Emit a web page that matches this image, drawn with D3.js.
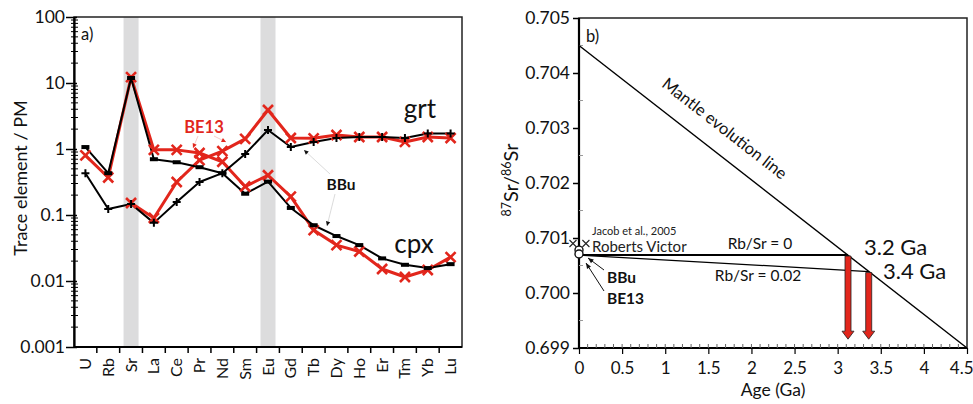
<!DOCTYPE html>
<html>
<head>
<meta charset="utf-8">
<script src="https://cdn.jsdelivr.net/npm/d3@7"></script>
<style>
  body { margin: 0; background: #fff; }
  svg { display: block; font-family: Lato, "Open Sans", sans-serif; }
</style>
</head>
<body>
<svg id="chart" width="973" height="404"></svg>
<script>
// ---------- panel a) data : trace elements normalised to primitive mantle ----------
const elements = ["U","Rb","Sr","La","Ce","Pr","Nd","Sm","Eu","Gd","Tb","Dy","Ho","Er","Tm","Yb","Lu"];
const shadedElements = ["Sr","Eu"];
const cpxBBu  = [1.07,0.43,11.9,0.70,0.63,0.53,0.43,0.21,0.32,0.128,0.070,0.048,0.035,0.022,0.0176,0.0157,0.018];
const cpxBE13 = [0.80,0.37,12.3,0.97,0.97,0.87,0.64,0.27,0.40,0.19,0.059,0.035,0.028,0.0152,0.0115,0.0147,0.023];
const grtBBu  = [0.43,0.123,0.147,0.076,0.157,0.316,0.43,0.84,1.94,1.07,1.28,1.47,1.52,1.52,1.47,1.72,1.72];
const grtBE13 = [null,null,0.152,0.090,0.316,0.68,0.93,1.42,3.9,1.47,1.45,1.63,1.52,1.52,1.28,1.52,1.47];
const yTicksA = [0.001,0.01,0.1,1,10,100];
const yTickLabelsA = ["0.001","0.01","0.1","1","10","100"];

// ---------- panel b) data : Sr isotope evolution ----------
const mantleLine = [[0,0.7045],[4.5,0.699]];
const rbSr0Line = [[0,0.70069],[3.12,0.70069]];
const rbSr002Line = [[0,0.70069],[3.36,0.70039]];
const modelAges = [[3.12,0.70069],[3.36,0.70039]];
const sampleRatios = [{name:"BBu", age:0, sr:0.70078},{name:"BE13", age:0, sr:0.70071}];
const literaturePoints = [[-0.07,0.7009],[0.08,0.7009]];
const xTicksB = [0,0.5,1,1.5,2,2.5,3,3.5,4,4.5];
const yTicksB = [0.699,0.700,0.701,0.702,0.703,0.704,0.705];

const RED = "#e2261c";
const svg = d3.select("#chart");

// ================= panel a =================
const ax = {l:74, r:462, t:17, b:347};
const xA = d3.scaleBand().domain(elements).range([ax.l, ax.r]);
const yA = d3.scaleLog().domain([0.001,100]).range([ax.b, ax.t]);
const gA = svg.append("g");

// grey bands behind Sr and Eu
gA.selectAll("rect.band").data(shadedElements).join("rect")
  .attr("x", d => xA(d) + xA.bandwidth()/2 - 7.5)
  .attr("y", ax.t).attr("width", 15).attr("height", ax.b - ax.t)
  .attr("fill", "#dcdcdd");

// frame
gA.append("rect").attr("x", ax.l).attr("y", ax.t).attr("width", ax.r-ax.l).attr("height", ax.b-ax.t)
  .attr("fill","none").attr("stroke","#222").attr("stroke-width",1.5);

// y axis: major ticks with labels, log minor ticks
const yAxisA = d3.axisLeft(yA).tickValues(yTicksA).tickFormat((d,i)=>yTickLabelsA[i]).tickSize(6).tickSizeOuter(0);
const gyA = gA.append("g").attr("transform",`translate(${ax.l},0)`).call(yAxisA);
gyA.select(".domain").attr("stroke","#000").attr("stroke-width",2.2);
gyA.selectAll(".tick line").attr("stroke","#000").attr("stroke-width",1.5).attr("x2",-8).attr("x1",3);
gyA.selectAll(".tick text").attr("font-size",17.5).attr("fill","#111").attr("x",-9).attr("font-family","Lato, sans-serif");
const minorA = [];
for (let e = -3; e < 2; e++) for (let m = 2; m <= 9; m++) minorA.push(m * Math.pow(10, e));
gA.selectAll("line.minorA").data(minorA).join("line")
  .attr("x1", ax.l - 3).attr("x2", ax.l + 4)
  .attr("y1", d => yA(d)).attr("y2", d => yA(d))
  .attr("stroke","#000").attr("stroke-width",1);

// x axis: ticks on category boundaries, rotated labels
gA.append("line").attr("x1",ax.l).attr("x2",ax.r).attr("y1",ax.b).attr("y2",ax.b).attr("stroke","#000").attr("stroke-width",2.2);
gA.selectAll("line.xb").data(elements.slice(1)).join("line")
  .attr("x1", d => xA(d)).attr("x2", d => xA(d)).attr("y1", ax.b).attr("y2", ax.b+6)
  .attr("stroke","#000").attr("stroke-width",1.5);
gA.selectAll("text.xl").data(elements).join("text")
  .attr("transform", d => `translate(${xA(d)+xA.bandwidth()/2+5.5},${ax.b+11}) rotate(-90)`)
  .attr("text-anchor","end").attr("font-size",16).attr("fill","#111").text(d => d);

// y axis title
gA.append("text").attr("transform","translate(27,178) rotate(-90)").attr("text-anchor","middle")
  .attr("font-size",18).attr("fill","#111").text("Trace element / PM");
gA.append("text").attr("x",81).attr("y",40).attr("font-size",16.5).attr("fill","#111").text("a)");

// series
const cx = (d,i) => xA(elements[i]) + xA.bandwidth()/2;
function series(values, color, width) {
  const line = d3.line().defined(d => d != null).x(cx).y(d => yA(d));
  gA.append("path").datum(values).attr("d", line).attr("fill","none")
    .attr("stroke", color).attr("stroke-width", width).attr("stroke-linejoin","round");
}
function markers(values, type, color) {
  const pts = values.map((v,i)=>({v,i})).filter(p => p.v != null);
  const g = gA.append("g");
  pts.forEach(p => {
    const x = cx(p.v,p.i), y = yA(p.v);
    if (type === "times") {
      g.append("path").attr("d",`M${x-5},${y-5}L${x+5},${y+5}M${x-5},${y+5}L${x+5},${y-5}`)
        .attr("stroke",color).attr("stroke-width",2.6).attr("fill","none");
    } else if (type === "plus") {
      g.append("path").attr("d",`M${x-4},${y}L${x+4},${y}M${x},${y-4}L${x},${y+4}`)
        .attr("stroke",color).attr("stroke-width",2).attr("fill","none");
    } else {
      g.append("rect").attr("x",x-4).attr("y",y-2).attr("width",8).attr("height",4).attr("fill",color);
    }
  });
}
series(cpxBE13, RED, 3);
series(grtBE13, RED, 3);
series(cpxBBu, "#000", 2);
series(grtBBu, "#000", 2);
markers(cpxBE13, "times", RED);
markers(grtBE13, "times", RED);
markers(cpxBBu, "dash", "#000");
markers(grtBBu, "plus", "#000");

// mineral labels
gA.append("text").attr("x",420).attr("y",118).attr("text-anchor","middle").attr("font-size",26).attr("fill","#111").text("grt");
gA.append("text").attr("x",414).attr("y",253).attr("text-anchor","middle").attr("font-size",26).attr("fill","#111").text("cpx");

// sample labels with thin leaders
function leader(x1,y1,x2,y2,color,lineColor) {
  gA.append("line").attr("x1",x1).attr("y1",y1).attr("x2",x2).attr("y2",y2)
    .attr("stroke",lineColor).attr("stroke-width",0.7);
  const a = Math.atan2(y2-y1,x2-x1), s = 5;
  const p = [[x2,y2],[x2-s*Math.cos(a-0.45),y2-s*Math.sin(a-0.45)],[x2-s*Math.cos(a+0.45),y2-s*Math.sin(a+0.45)]];
  gA.append("path").attr("d","M"+p.join("L")+"Z").attr("fill",color);
}
gA.append("text").attr("x",204).attr("y",133).attr("text-anchor","middle").attr("font-size",16.5)
  .attr("font-weight","bold").attr("fill",RED).text("BE13");
leader(198,136,193,148,RED,"#f3b8b3");
leader(214,136,226,142,RED,"#f3b8b3");
gA.append("text").attr("x",341).attr("y",190).attr("text-anchor","middle").attr("font-size",15.5)
  .attr("font-weight","bold").attr("fill","#111").text("BBu");
leader(330,174,304,150,"#111","#ccc");
leader(335,194,327,226,"#111","#ccc");

// ================= panel b =================
const bx = {l:579, r:967, t:18, b:348};
const xB = d3.scaleLinear().domain([0,4.5]).range([bx.l, bx.r]);
const yB = d3.scaleLinear().domain([0.699,0.705]).range([bx.b, bx.t]);
const gB = svg.append("g");

gB.append("rect").attr("x",bx.l).attr("y",bx.t).attr("width",bx.r-bx.l).attr("height",bx.b-bx.t)
  .attr("fill","none").attr("stroke","#222").attr("stroke-width",1.5);
gB.append("line").attr("x1",bx.l).attr("x2",bx.l).attr("y1",bx.t).attr("y2",bx.b).attr("stroke","#000").attr("stroke-width",2.2);
gB.append("line").attr("x1",bx.l).attr("x2",bx.r).attr("y1",bx.b).attr("y2",bx.b).attr("stroke","#000").attr("stroke-width",2.2);

// y ticks
const yAxisB = d3.axisLeft(yB).tickValues(yTicksB).tickFormat(d3.format(".3f")).tickSize(6).tickSizeOuter(0);
const gyB = gB.append("g").attr("transform",`translate(${bx.l},0)`).call(yAxisB);
gyB.select(".domain").remove();
gyB.selectAll(".tick line").attr("stroke","#000").attr("stroke-width",1.5);
gyB.selectAll(".tick text").attr("font-size",17.5).attr("fill","#111").attr("x",-9).attr("font-family","Lato, sans-serif");
gB.selectAll("line.yminB").data(d3.range(0.6995,0.705,0.001)).join("line")
  .attr("x1",bx.l).attr("x2",bx.l+4).attr("y1",d=>yB(d)).attr("y2",d=>yB(d)).attr("stroke","#999").attr("stroke-width",1);

// x ticks
const xAxisB = d3.axisBottom(xB).tickValues(xTicksB).tickFormat(d3.format("")).tickSize(6).tickSizeOuter(0);
const gxB = gB.append("g").attr("transform",`translate(0,${bx.b})`).call(xAxisB);
gxB.select(".domain").remove();
gxB.selectAll(".tick line").attr("stroke","#000").attr("stroke-width",1.2);
gxB.selectAll(".tick text").attr("font-size",17).attr("fill","#111").attr("y",14).attr("font-family","Lato, sans-serif");
// keep the last label inside the page
gxB.selectAll(".tick text").filter(d => d === 4.5).attr("text-anchor","end").attr("x",6);
gB.selectAll("line.xminB").data(d3.range(0.1,4.5,0.1)).join("line")
  .attr("x1",d=>xB(d)).attr("x2",d=>xB(d)).attr("y1",bx.b).attr("y2",bx.b-4).attr("stroke","#666").attr("stroke-width",1);

// axis titles
gB.append("text").attr("x",773).attr("y",396).attr("text-anchor","middle").attr("font-size",17.5).attr("fill","#111").text("Age (Ga)");
const yt = gB.append("text").attr("transform","translate(518,180) rotate(-90)").attr("text-anchor","middle")
  .attr("font-size",20).attr("fill","#111");
yt.append("tspan").attr("font-size",12.5).attr("baseline-shift","super").text("87");
yt.append("tspan").text("Sr/");
yt.append("tspan").attr("font-size",12.5).attr("baseline-shift","super").text("86");
yt.append("tspan").text("Sr");
gB.append("text").attr("x",586).attr("y",42).attr("font-size",16.5).attr("fill","#111").text("b)");

// evolution lines
const lineB = d3.line().x(d=>xB(d[0])).y(d=>yB(d[1]));
gB.append("path").datum(mantleLine).attr("d",lineB).attr("stroke","#000").attr("stroke-width",1.4).attr("fill","none");
gB.append("path").datum(rbSr0Line).attr("d",lineB).attr("stroke","#000").attr("stroke-width",2).attr("fill","none");
gB.append("path").datum(rbSr002Line).attr("d",lineB).attr("stroke","#000").attr("stroke-width",1.2).attr("fill","none");

// mantle line label, parallel to the line
const ang = Math.atan2(yB(mantleLine[1][1])-yB(mantleLine[0][1]), xB(mantleLine[1][0])-xB(mantleLine[0][0])) * 180/Math.PI;
gB.append("text").attr("transform",`translate(721,133) rotate(${ang})`).attr("text-anchor","middle")
  .attr("font-size",16.5).attr("fill","#111").text("Mantle evolution line");

// model age arrows
modelAges.forEach(d => {
  const x = xB(d[0]), y0 = yB(d[1]) + 1, y1 = yB(0.69916);
  const w = 3, h = 8, hw = 6;
  gB.append("path")
    .attr("d",`M${x-w},${y0}L${x+w},${y0}L${x+w},${y1-h}L${x+hw},${y1-h}L${x},${y1}L${x-hw},${y1-h}L${x-w},${y1-h}Z`)
    .attr("fill",RED).attr("stroke","#222").attr("stroke-width",0.8);
});
gB.append("text").attr("x",864).attr("y",255).attr("font-size",22).attr("fill","#111").text("3.2 Ga");
gB.append("text").attr("x",883).attr("y",279).attr("font-size",22).attr("fill","#111").text("3.4 Ga");
gB.append("text").attr("x",760).attr("y",249).attr("text-anchor","middle").attr("font-size",15.5).attr("fill","#111").text("Rb/Sr = 0");
gB.append("text").attr("x",758).attr("y",281).attr("text-anchor","middle").attr("font-size",15.5).attr("fill","#111").text("Rb/Sr = 0.02");

// literature points and present-day samples
literaturePoints.forEach(d => {
  const x = xB(d[0]), y = yB(d[1]);
  gB.append("path").attr("d",`M${x-3.5},${y-3.5}L${x+3.5},${y+3.5}M${x-3.5},${y+3.5}L${x+3.5},${y-3.5}`)
    .attr("stroke","#222").attr("stroke-width",1.1);
});
gB.selectAll("circle.sample").data(sampleRatios).join("circle")
  .attr("cx",d=>xB(d.age)).attr("cy",d=>yB(d.sr)).attr("r",4)
  .attr("fill","#fff").attr("stroke","#111").attr("stroke-width",1.4);
gB.append("text").attr("x",592).attr("y",235).attr("font-size",11).attr("fill","#222").text("Jacob et al., 2005");
gB.append("text").attr("x",592).attr("y",252).attr("font-size",15).attr("fill","#222").text("Roberts Victor");
gB.append("text").attr("x",607).attr("y",283).attr("font-size",15.5).attr("font-weight","bold").attr("fill","#111").text("BBu");
gB.append("text").attr("x",607).attr("y",304).attr("font-size",15.5).attr("font-weight","bold").attr("fill","#111").text("BE13");
function arrowB(x1,y1,x2,y2) {
  gB.append("line").attr("x1",x1).attr("y1",y1).attr("x2",x2).attr("y2",y2).attr("stroke","#111").attr("stroke-width",1);
  const a = Math.atan2(y2-y1,x2-x1), s = 6;
  const p = [[x2,y2],[x2-s*Math.cos(a-0.4),y2-s*Math.sin(a-0.4)],[x2-s*Math.cos(a+0.4),y2-s*Math.sin(a+0.4)]];
  gB.append("path").attr("d","M"+p.join("L")+"Z").attr("fill","#111");
}
arrowB(604,270,588,258);
arrowB(604,291,586,263);
</script>
</body>
</html>
